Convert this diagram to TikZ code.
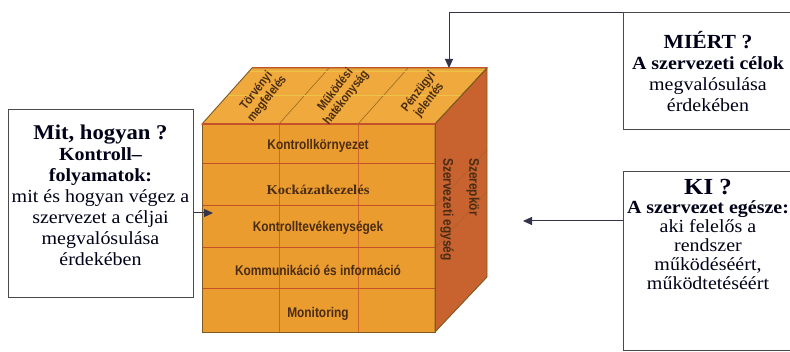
\documentclass[tikz,border=0pt]{standalone}
\usepackage{fontspec}
\setmainfont{Liberation Serif}[FakeStretch=1.08]
\newfontfamily\cubefont{Liberation Sans}[FakeStretch=0.85]
\usetikzlibrary{arrows.meta}
\definecolor{front area}{HTML}{EA9C2F}
\definecolor{top area}{HTML}{EFA93C}
\definecolor{side area}{HTML}{C8632F}
\definecolor{cube edge}{HTML}{7E5A22}
\definecolor{row line}{HTML}{C4502C}
\definecolor{top line}{HTML}{EDC44A}
\definecolor{cube text}{HTML}{4A2C14}
\definecolor{box edge}{HTML}{4A4A4A}
\definecolor{pointer line}{HTML}{33334A}
\def\frontface{(202,124) rectangle (435,332)}
\def\topface{(202,124) -- (252,68) -- (487,68) -- (435,124) -- cycle}
\def\sideface{(435,124) -- (487,68) -- (487,277) -- (435,332) -- cycle}
\tikzset{face/.style={draw=cube edge, line width=0.9pt},
    rowline/.style={draw=row line, line width=1pt},
    colline/.style={draw=row line!70!front area, line width=0.6pt},
    topline/.style={draw=cube edge!80!top area, line width=0.6pt},
    sideline/.style={draw=cube edge!40!side area, line width=0.5pt},
    cubetext/.style={font=\cubefont\bfseries\fontsize{14}{15}\selectfont, text=cube text, inner sep=0pt},
    toptext/.style={font=\cubefont\bfseries\fontsize{12.5}{13.5}\selectfont, text=cube text, align=center, rotate=52, inner sep=0pt},
    sidetext/.style={cubetext, rotate=-90, anchor=west},
    infobox/.style={draw=box edge, line width=1pt, fill=white, align=center, text=black!90!blue, font=\fontsize{18.5}{21}\selectfont},
    pointer/.style={draw=pointer line, line width=1pt, -{Triangle[length=9pt,width=8pt]}}}

\begin{document}
\begin{tikzpicture}[x=1pt, y=-1pt]
    \clip (0,0) rectangle (790,352);
    % the cube
    \fill[front area] \frontface;
    \fill[top area]   \topface;
    \fill[side area]  \sideface;
    \foreach \x in {279,358} \draw[colline] (\x,124) -- (\x,332);
    \foreach \y in {164,206,248,289} \draw[rowline] (202,\y) -- (435,\y);
    \foreach \x in {279,358} \draw[topline] (\x,124) -- ++(50,-56);
    \draw[top line, line width=1pt] (227,96) -- (461,96);
    \draw[top line, line width=0.8pt] (250,71) -- (484,71);
    \foreach \y in {206,248} \draw[sideline] (435,\y) -- ++(52,-56);
    \draw[face] \frontface;
    \draw[face] \topface;
    \draw[face] \sideface;
    \draw[row line, line width=1.6pt] (202,124) -- (435,124);
    \draw[row line, line width=1pt] (252,68) -- (487,68);

    \node[cubetext] (kornyezet)    at (318,146) {Kontrollkörnyezet};
    \node[cubetext, font=\bfseries\fontsize{13.5}{15}\selectfont] (kockazat) at (318,190) {Kockázatkezelés};
    \node[cubetext] (tevekenyseg)  at (318,228) {Kontrolltevékenységek};
    \node[cubetext] (kommunikacio) at (318,270) {Kommunikáció és információ};
    \node[cubetext] (monitoring)   at (318,314) {Monitoring};

    \node[toptext] (torvenyi) at (262,95) {Törvényi\\megfelelés};
    \node[toptext] (mukodesi) at (341,94) {Működési\\hatékonyság};
    \node[toptext] (penzugyi) at (424,96) {Pénzügyi\\jelentés};

    \node[sidetext] (szerepkor) at (473,158) {Szerepkör};
    \node[sidetext] (egyseg)    at (447,158) {Szervezeti egység};

    % the questions
    \node[infobox, minimum width=185pt, minimum height=188pt] (mit) at (100.5,204)
        {{\bfseries\fontsize{21}{22}\selectfont Mit, hogyan ?}\\
         {\bfseries Kontroll–}\\ {\bfseries folyamatok:}\\
         mit és hogyan végez a\\ szervezet a céljai\\ megvalósulása\\
         érdekében\rule[-17pt]{0pt}{0pt}};
    \node[infobox, minimum width=170pt, minimum height=117pt] (miert) at (708,71.5)
        {{\bfseries\fontsize{20}{21}\selectfont MIÉRT ?}\\
         {\bfseries A szervezeti célok}\\ megvalósulása\\ érdekében};
    \node[infobox, minimum width=168pt, minimum height=179pt,
          font=\fontsize{18.5}{19}\selectfont] (ki) at (708,261.5)
        {{\bfseries\fontsize{23}{22}\selectfont KI ?}\\
         {\bfseries A szervezet egésze:}\\ aki felelős a\\ rendszer\\
         működéséért,\\ működtetéséért\rule[-55pt]{0pt}{0pt}};

    \coordinate (cubeleft) at (213,213);
    \coordinate (cubetop)  at (449,68);
    \coordinate (kitip)    at (523,221);
    \draw[pointer] (mit.east |- cubeleft) -- (cubeleft);
    \draw[pointer] (miert.north west) -| (cubetop);
    \draw[pointer] (ki.west |- kitip) -- (kitip);
\end{tikzpicture}
\end{document}
